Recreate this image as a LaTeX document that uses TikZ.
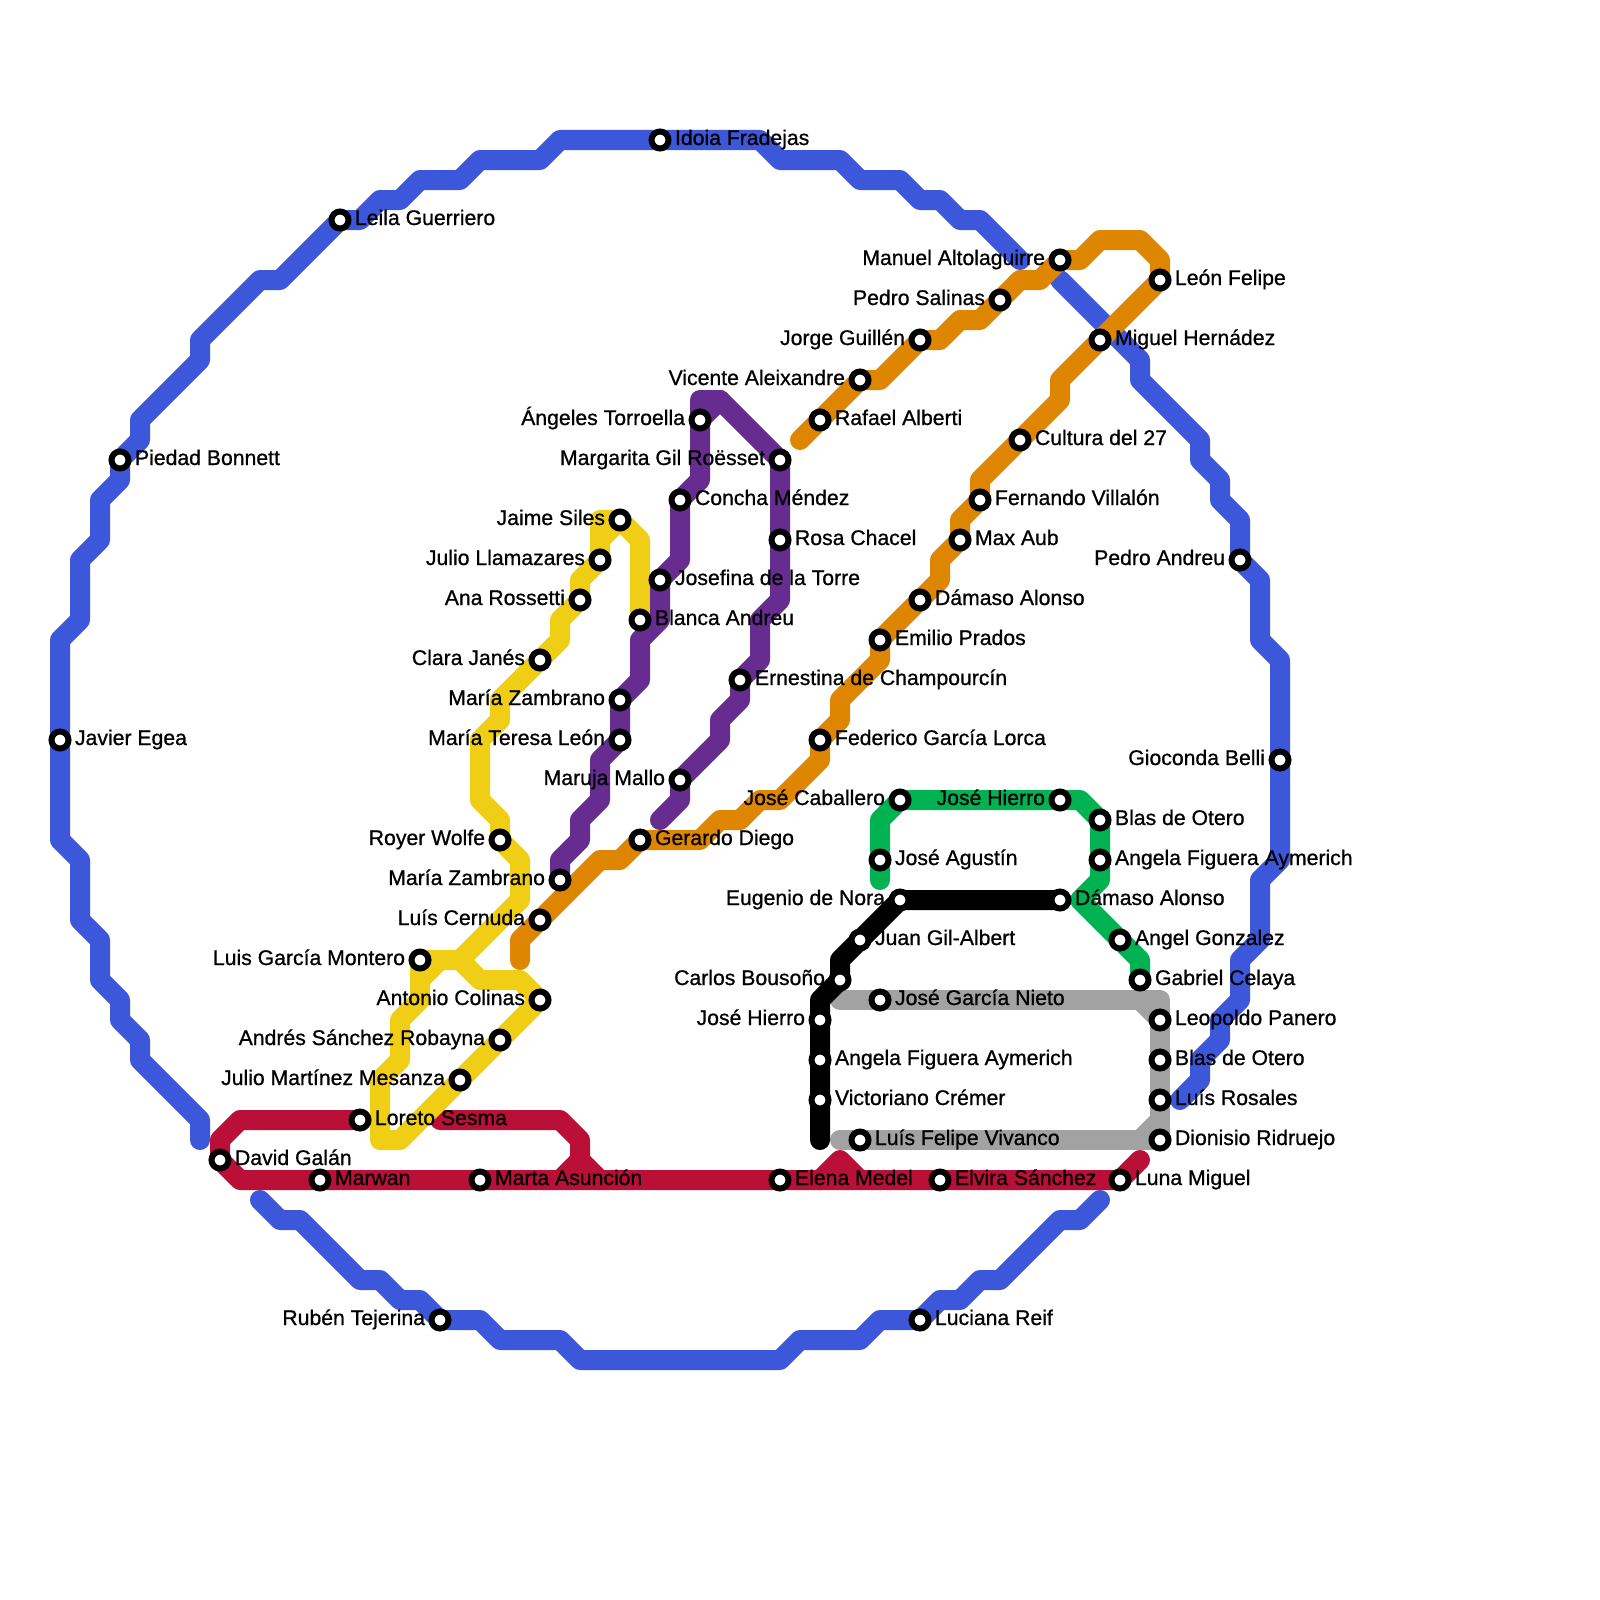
\documentclass[tikz,border=0pt]{standalone}
\usepackage{fontspec}
\newfontfamily\lblfont[FakeBold=0.8]{Liberation Sans}
\pgfdeclarelayer{lines}
\pgfsetlayers{lines,main}
\definecolor{cblue}{HTML}{3D57DB}
\definecolor{cred}{HTML}{BA1038}
\definecolor{cyel}{HTML}{F0CE15}
\definecolor{cpur}{HTML}{662C90}
\definecolor{cora}{HTML}{DF8600}
\definecolor{cgre}{HTML}{00B251}
\definecolor{cgry}{HTML}{A2A2A2}
\tikzset{
  stn/.style={circle,draw=black,fill=white,line width=3pt,minimum size=8.5pt,inner sep=0pt,outer sep=0pt},
  lblbase/.style={font=\lblfont\fontsize{10.6pt}{12pt}\selectfont,text=black,inner sep=0pt,outer sep=0pt},
  lblr/.style={lblbase,anchor=base west},
  lbll/.style={lblbase,anchor=base east},
  route/.style={line width=10pt,line cap=round,line join=round},
}
\newcommand{\stR}[4]{\node[stn] (#1) at (#2,#3) {};\node[lblr] (#1t) at (#2+15,#3+5) {#4};}
\newcommand{\stL}[4]{\node[stn] (#1) at (#2,#3) {};\node[lbll] (#1t) at (#2-15,#3+5) {#4};}
\begin{document}
\begin{tikzpicture}[x=0.5pt,y=-0.5pt]
\useasboundingbox (0,0) rectangle (1600,1600);
% blue
\stR{idoia}{660}{140}{Idoia Fradejas}
\stR{leila}{340}{220}{Leila Guerriero}
\stR{piedad}{120}{460}{Piedad Bonnett}
\stR{javier}{60}{740}{Javier Egea}
\stL{ruben}{440}{1320}{Rubén Tejerina}
\stR{luciana}{920}{1320}{Luciana Reif}
\stL{pandreu}{1240}{560}{Pedro Andreu}
\stL{gioconda}{1280}{760}{Gioconda Belli}
% red
\stR{david}{220}{1160}{David Galán}
\stR{marwan}{320}{1180}{Marwan}
\stR{marta}{480}{1180}{Marta Asunción}
\stR{elena}{780}{1180}{Elena Medel}
\stR{elvira}{940}{1180}{Elvira Sánchez}
\stR{luna}{1120}{1180}{Luna Miguel}
\stR{loreto}{360}{1120}{Loreto Sesma}
% yellow
\stL{jaime}{620}{520}{Jaime Siles}
\stL{julioll}{600}{560}{Julio Llamazares}
\stL{ana}{580}{600}{Ana Rossetti}
\stL{clara}{540}{660}{Clara Janés}
\stL{royer}{500}{840}{Royer Wolfe}
\stL{lgm}{420}{960}{Luis García Montero}
\stL{colinas}{540}{1000}{Antonio Colinas}
\stL{robayna}{500}{1040}{Andrés Sánchez Robayna}
\stL{mesanza}{460}{1080}{Julio Martínez Mesanza}
\stR{blanca}{640}{620}{Blanca Andreu}
% purple
\stL{angeles}{700}{420}{Ángeles Torroella}
\stL{margarita}{780}{460}{Margarita Gil Roësset}
\stR{concha}{680}{500}{Concha Méndez}
\stR{rosa}{780}{540}{Rosa Chacel}
\stR{josefina}{660}{580}{Josefina de la Torre}
\stR{ernestina}{740}{680}{Ernestina de Champourcín}
\stL{zambA}{620}{700}{María Zambrano}
\stL{teresa}{620}{740}{María Teresa León}
\stL{maruja}{680}{780}{Maruja Mallo}
\stL{zambB}{560}{880}{María Zambrano}
% orange
\stR{rafael}{820}{420}{Rafael Alberti}
\stL{vicente}{860}{380}{Vicente Aleixandre}
\stL{jorge}{920}{340}{Jorge Guillén}
\stL{salinas}{1000}{300}{Pedro Salinas}
\stL{manuel}{1060}{260}{Manuel Altolaguirre}
\stR{leon}{1160}{280}{León Felipe}
\stR{miguel}{1100}{340}{Miguel Hernádez}
\stR{cultura}{1020}{440}{Cultura del 27}
\stR{fernando}{980}{500}{Fernando Villalón}
\stR{maxaub}{960}{540}{Max Aub}
\stR{damasoA}{920}{600}{Dámaso Alonso}
\stR{emilio}{880}{640}{Emilio Prados}
\stR{federico}{820}{740}{Federico García Lorca}
\stR{gerardo}{640}{840}{Gerardo Diego}
\stL{cernuda}{540}{920}{Luís Cernuda}
% green
\stL{caballero}{900}{800}{José Caballero}
\stR{agustin}{880}{860}{José Agustín}
\stL{hierroA}{1060}{800}{José Hierro}
\stR{blasA}{1100}{820}{Blas de Otero}
\stR{angelaA}{1100}{860}{Angela Figuera Aymerich}
\stR{gonzalez}{1120}{940}{Angel Gonzalez}
\stR{celaya}{1140}{980}{Gabriel Celaya}
% black
\stL{nora}{900}{900}{Eugenio de Nora}
\stR{damasoB}{1060}{900}{Dámaso Alonso}
\stR{gilalbert}{860}{940}{Juan Gil-Albert}
\stL{bousono}{840}{980}{Carlos Bousoño}
\stL{hierroB}{820}{1020}{José Hierro}
\stR{angelaB}{820}{1060}{Angela Figuera Aymerich}
\stR{cremer}{820}{1100}{Victoriano Crémer}
% grey
\stR{nieto}{880}{1000}{José García Nieto}
\stR{vivanco}{860}{1140}{Luís Felipe Vivanco}
\stR{panero}{1160}{1020}{Leopoldo Panero}
\stR{blasB}{1160}{1060}{Blas de Otero}
\stR{rosales}{1160}{1100}{Luís Rosales}
\stR{ridruejo}{1160}{1140}{Dionisio Ridruejo}
% free route ends
\coordinate (blueA) at (1180,1100);
\coordinate (blueB) at (1020,260);
\coordinate (blueC) at (1060,280);
\coordinate (blueD) at (200,1140);
\coordinate (blueE) at (260,1200);
\coordinate (blueF) at (1100,1200);
\coordinate (redA) at (440,1120);
\coordinate (redB) at (1140,1160);
\coordinate (oraA) at (800,440);
\coordinate (oraB) at (520,960);
\coordinate (purA) at (660,820);
\coordinate (greA) at (880,880);
\coordinate (blkA) at (820,1140);
\coordinate (gryA) at (840,1000);
\coordinate (gryB) at (840,1140);
\begin{pgfonlayer}{lines}
\fill[white] (0,0) rectangle (1600,1600);
% blue
\draw[route,cblue] (blueA) -- (1200,1080) -- (1200,1060) -- (1220,1040) -- (1220,1020) -- (1240,1000) -- (1240,960) -- (1260,940) -- (1260,880) -- (1280,860) -- (gioconda.center) -- (1280,660) -- (1260,640) -- (1260,580) -- (pandreu.center) -- (1240,520) -- (1220,500) -- (1220,480) -- (1200,460) -- (1200,440) -- (1140,380) -- (1140,360) -- (blueC);
\draw[route,cblue] (blueB) -- (980,220) -- (960,220) -- (940,200) -- (920,200) -- (900,180) -- (860,180) -- (840,160) -- (780,160) -- (760,140) -- (idoia.center) -- (560,140) -- (540,160) -- (480,160) -- (460,180) -- (420,180) -- (400,200) -- (380,200) -- (360,220) -- (leila.center) -- (280,280) -- (260,280) -- (200,340) -- (200,360) -- (140,420) -- (140,440) -- (piedad.center) -- (120,480) -- (100,500) -- (100,540) -- (80,560) -- (80,620) -- (60,640) -- (javier.center) -- (60,840) -- (80,860) -- (80,920) -- (100,940) -- (100,980) -- (120,1000) -- (120,1020) -- (140,1040) -- (140,1060) -- (200,1120) -- (blueD);
\draw[route,cblue] (blueE) -- (280,1220) -- (300,1220) -- (360,1280) -- (380,1280) -- (400,1300) -- (420,1300) -- (ruben.center) -- (480,1320) -- (500,1340) -- (560,1340) -- (580,1360) -- (780,1360) -- (800,1340) -- (860,1340) -- (880,1320) -- (luciana.center) -- (940,1300) -- (960,1300) -- (980,1280) -- (1000,1280) -- (1060,1220) -- (1080,1220) -- (blueF);
% red
\draw[route,cred] (loreto.center) -- (240,1120) -- (220,1140) -- (david.center) -- (240,1180) -- (marwan.center) -- (marta.center) -- (elena.center) -- (elvira.center) -- (luna.center) -- (redB);
\draw[route,cred] (redA) -- (560,1120) -- (580,1140) -- (580,1160) -- (600,1180);
\draw[route,cred] (580,1160) -- (560,1180);
\draw[route,cred] (820,1180) -- (840,1160) -- (860,1180);
% yellow
\draw[route,cyel] (blanca.center) -- (640,540) -- (jaime.center) -- (600,520) -- (julioll.center) -- (580,580) -- (ana.center) -- (560,620) -- (560,640) -- (clara.center) -- (500,700) -- (500,720) -- (480,740) -- (480,800) -- (500,820) -- (royer.center) -- (520,860) -- (520,900) -- (460,960) -- (lgm.center) -- (420,1000) -- (400,1020) -- (400,1060) -- (380,1080) -- (380,1140) -- (400,1140) -- (mesanza.center) -- (robayna.center) -- (colinas.center) -- (520,980) -- (480,980) -- (460,960);
\draw[route,cyel] (jaime.center) -- (600,540);
\draw[route,cyel] (440,960) -- (420,980);
% purple
\draw[route,cpur] (angeles.center) -- (700,400) -- (720,400) -- (margarita.center) -- (rosa.center) -- (780,600) -- (760,620) -- (760,660) -- (ernestina.center) -- (740,700) -- (720,720) -- (720,740) -- (maruja.center) -- (680,800) -- (purA);
\draw[route,cpur] (angeles.center) -- (720,400);
\draw[route,cpur] (angeles.center) -- (700,480) -- (concha.center) -- (680,560) -- (josefina.center) -- (660,620) -- (640,640) -- (640,680) -- (zambA.center) -- (teresa.center) -- (600,760) -- (600,800) -- (580,820) -- (580,840) -- (560,860) -- (zambB.center);
% orange
\draw[route,cora] (oraA) -- (rafael.center) -- (vicente.center) -- (880,380) -- (jorge.center) -- (940,340) -- (960,320) -- (980,320) -- (salinas.center) -- (1020,280) -- (1040,280) -- (manuel.center) -- (1080,260) -- (1100,240) -- (1140,240) -- (1160,260) -- (leon.center) -- (miguel.center) -- (1060,380) -- (1060,400) -- (cultura.center) -- (980,480) -- (fernando.center) -- (960,520) -- (maxaub.center) -- (940,560) -- (940,580) -- (damasoA.center) -- (emilio.center) -- (880,660) -- (840,700) -- (840,720) -- (federico.center) -- (820,760) -- (780,800) -- (760,800) -- (740,820) -- (720,820) -- (700,840) -- (gerardo.center) -- (620,860) -- (600,860) -- (cernuda.center) -- (520,940) -- (oraB);
% green
\draw[route,cgre] (greA) -- (agustin.center) -- (880,820) -- (caballero.center) -- (hierroA.center) -- (1080,800) -- (blasA.center) -- (angelaA.center) -- (1100,880) -- (1080,900) -- (gonzalez.center) -- (1140,960) -- (celaya.center);
% grey
\draw[route,cgry] (gryA) -- (nieto.center) -- (1160,1000) -- (panero.center) -- (blasB.center) -- (rosales.center) -- (ridruejo.center) -- (vivanco.center) -- (gryB);
\draw[route,cgry] (1140,1000) -- (panero.center);
\draw[route,cgry] (1140,1140) -- (1160,1120);
% black
\draw[route,black] (damasoB.center) -- (nora.center) -- (gilalbert.center) -- (840,960) -- (bousono.center) -- (820,1000) -- (hierroB.center) -- (angelaB.center) -- (cremer.center) -- (blkA);
\end{pgfonlayer}
\end{tikzpicture}
\end{document}
